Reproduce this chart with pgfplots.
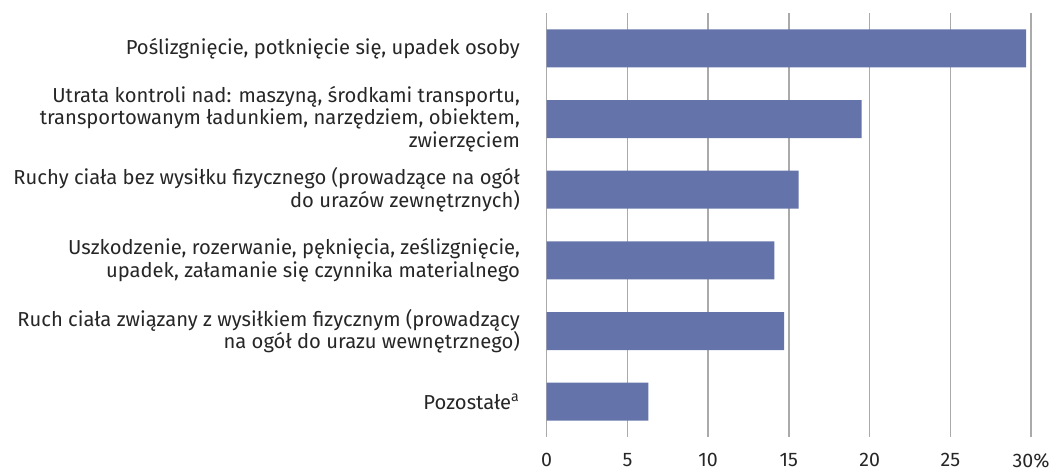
\documentclass[border=0pt]{standalone}
\usepackage{fontspec}
\setmainfont{Fira Sans}
\usepackage{pgfplots}
\pgfplotsset{compat=1.18}

\definecolor{barblue}{RGB}{100,116,170}
\definecolor{gridgray}{RGB}{170,170,170}
\definecolor{txt}{RGB}{38,38,38}

\begin{document}
\begin{tikzpicture}
\begin{axis}[
  xbar,
  scale only axis,
  width=242.2pt, height=212pt,
  xmin=0, xmax=30,
  ymin=-0.5, ymax=5.5,
  y dir=reverse,
  bar width=19pt,
  xtick={0,5,10,15,20,25,30},
  xticklabels={0,5,10,15,20,25,30\%},
  ytick={0,1,2,3,4,5},
  yticklabels={
    {Poślizgnięcie, potknięcie się, upadek osoby},
    {Utrata kontroli nad: maszyną, środkami transportu,\\transportowanym ładunkiem, narzędziem, obiektem,\\zwierzęciem},
    {Ruchy ciała bez wysiłku fizycznego (prowadzące na ogół\\do urazów zewnętrznych)},
    {Uszkodzenie, rozerwanie, pęknięcia, ześlizgnięcie,\\upadek, załamanie się czynnika materialnego},
    {Ruch ciała związany z wysiłkiem fizycznym (prowadzący\\na ogół do urazu wewnętrznego)},
    {Pozostałe\textsuperscript{a}}
  },
  /pgf/number format/assume math mode=true,
  yticklabel style={align=right, font=\fontsize{10.1}{11.25}\selectfont, text=txt, xshift=-5.6pt},
  xticklabel style={font=\fontsize{9.8}{11.25}\selectfont, text=txt, yshift=-4.5pt},
  axis line style={draw=none},
  major tick style={draw=none},
  xmajorgrids,
  grid style={gridgray, line width=0.75pt},
  clip=false,
]
\addplot[fill=barblue, draw=none] coordinates {
  (29.7,0) (19.5,1) (15.6,2) (14.1,3) (14.7,4) (6.3,5)
};
\coordinate (SW) at (rel axis cs:0,0);
\end{axis}
\pgfresetboundingbox
\path[use as bounding box] ([xshift=-273.35pt,yshift=-18pt]SW) rectangle ++(528pt,236.5pt);
\end{tikzpicture}
\end{document}
